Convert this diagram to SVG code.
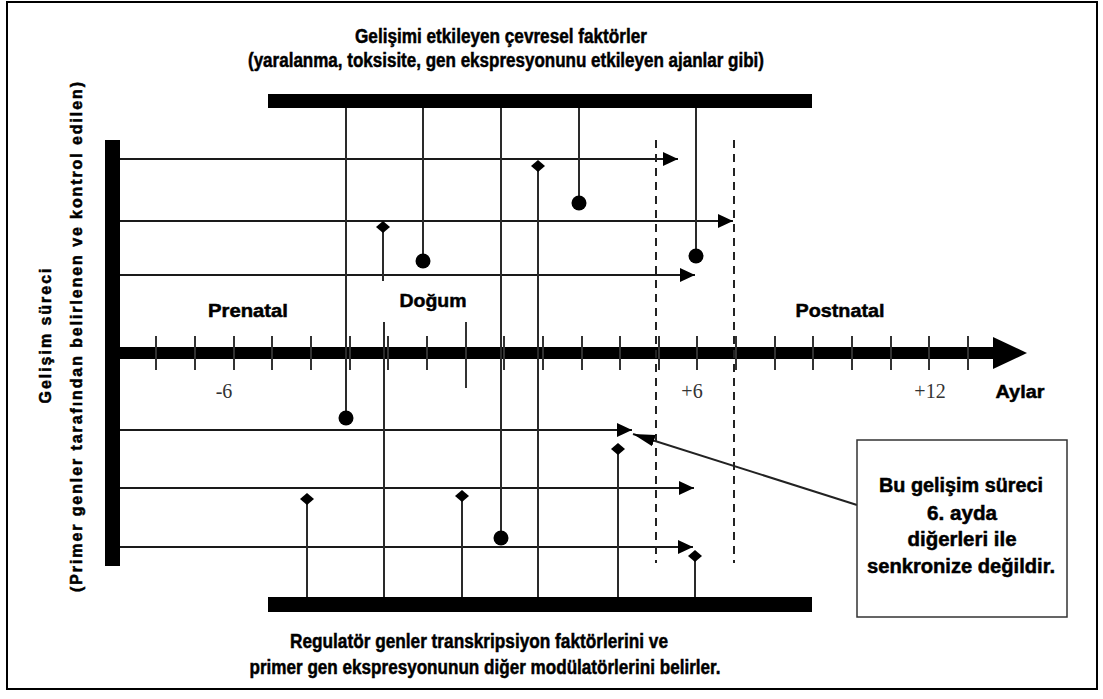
<svg xmlns="http://www.w3.org/2000/svg" width="1103" height="699" viewBox="0 0 1103 699">
<style>
.bt{font-family:"Liberation Sans",Arial,sans-serif;font-weight:bold;fill:#000;stroke:#000;stroke-width:0.5;text-anchor:middle}
.num{font-family:"Liberation Serif","Times New Roman",serif;fill:#333;text-anchor:middle;font-size:20px}
.h{stroke:#1a1a1a;stroke-width:2;fill:none}
.v{stroke:#2a2a2a;stroke-width:2;fill:none}
.tick{stroke:#333;stroke-width:2}
.dash{stroke:#222;stroke-width:2;stroke-dasharray:8 6;fill:none}
.dot{fill:#000}
</style>
<defs>
<marker id="ah" markerUnits="userSpaceOnUse" markerWidth="16" markerHeight="14" refX="15" refY="7" orient="auto">
<path d="M0,0 L15,7 L0,14 z" fill="#000"/>
</marker>
<marker id="ap" markerUnits="userSpaceOnUse" markerWidth="23" markerHeight="14" refX="22" refY="7" orient="auto">
<path d="M0,1 L22,7 L0,13 z" fill="#000"/>
</marker>
</defs>
<rect x="0" y="0" width="1103" height="699" fill="#fff"/>
<rect x="7" y="2" width="1090" height="687" fill="none" stroke="#000" stroke-width="2"/>

<g id="titles">
<text class="bt" x="501" y="43" font-size="20" textLength="292" lengthAdjust="spacingAndGlyphs">Gelişimi etkileyen çevresel faktörler</text>
<text class="bt" x="506" y="67" font-size="20" textLength="516" lengthAdjust="spacingAndGlyphs">(yaralanma, toksisite, gen ekspresyonunu etkileyen ajanlar gibi)</text>
<text class="bt" x="479" y="648" font-size="20" textLength="378" lengthAdjust="spacingAndGlyphs">Regulatör genler transkripsiyon faktörlerini ve</text>
<text class="bt" x="485" y="674" font-size="20" textLength="471" lengthAdjust="spacingAndGlyphs">primer gen ekspresyonunun diğer modülatörlerini belirler.</text>
</g>

<g id="yaxis-label">
<text class="bt" font-size="16" transform="translate(51,336) rotate(-90)" textLength="135">Gelişim süreci</text>
<text class="bt" font-size="16" transform="translate(82,337) rotate(-90)" textLength="510">(Primer genler tarafından belirlenen ve kontrol edilen)</text>
</g>

<g id="bars">
<rect x="268" y="94" width="544" height="14" fill="#000"/>
<rect x="268" y="597" width="544" height="15" fill="#000"/>
<rect x="105" y="140" width="15" height="426" fill="#000"/>
</g>

<g id="time-axis">
<line x1="118" y1="353" x2="996" y2="353" stroke="#000" stroke-width="12"/>
<polygon points="993,337 1027,353 993,369" fill="#000"/>
<g class="tick">
<line x1="156" y1="336" x2="156" y2="370"/><line x1="195" y1="336" x2="195" y2="370"/>
<line x1="234" y1="336" x2="234" y2="370"/><line x1="272" y1="336" x2="272" y2="370"/>
<line x1="311" y1="336" x2="311" y2="370"/><line x1="350" y1="336" x2="350" y2="370"/>
<line x1="388" y1="336" x2="388" y2="370"/><line x1="427" y1="336" x2="427" y2="370"/>
<line x1="466" y1="322" x2="466" y2="388"/><line x1="504" y1="336" x2="504" y2="370"/>
<line x1="543" y1="336" x2="543" y2="370"/><line x1="582" y1="336" x2="582" y2="370"/>
<line x1="620" y1="336" x2="620" y2="370"/><line x1="659" y1="336" x2="659" y2="370"/>
<line x1="697" y1="336" x2="697" y2="370"/><line x1="736" y1="336" x2="736" y2="370"/>
<line x1="775" y1="336" x2="775" y2="370"/><line x1="813" y1="336" x2="813" y2="370"/>
<line x1="852" y1="336" x2="852" y2="370"/><line x1="891" y1="336" x2="891" y2="370"/>
<line x1="929" y1="336" x2="929" y2="370"/><line x1="968" y1="336" x2="968" y2="370"/>
</g>
<text class="num" x="224" y="398">-6</text>
<text class="num" x="692" y="398">+6</text>
<text class="num" x="930" y="398">+12</text>
<text class="bt" x="1020" y="398" font-size="19" textLength="49" lengthAdjust="spacingAndGlyphs">Aylar</text>
<text class="bt" x="248" y="317" font-size="19" textLength="80" lengthAdjust="spacingAndGlyphs">Prenatal</text>
<text class="bt" x="433" y="307" font-size="19" textLength="67" lengthAdjust="spacingAndGlyphs">Doğum</text>
<text class="bt" x="840" y="317" font-size="19" textLength="89" lengthAdjust="spacingAndGlyphs">Postnatal</text>
</g>

<g id="connectors">
<line class="h" x1="120" y1="159" x2="678" y2="159" marker-end="url(#ah)"/>
<line class="h" x1="120" y1="221" x2="733" y2="221" marker-end="url(#ah)"/>
<line class="h" x1="120" y1="275" x2="695" y2="275" marker-end="url(#ah)"/>
<line class="h" x1="120" y1="430" x2="632" y2="430" marker-end="url(#ah)"/>
<line class="h" x1="120" y1="488" x2="694" y2="488" marker-end="url(#ah)"/>
<line class="h" x1="120" y1="547" x2="693" y2="547" marker-end="url(#ah)"/>

<line class="dash" x1="656" y1="140" x2="656" y2="563"/>
<line class="dash" x1="734" y1="140" x2="734" y2="563"/>

<line class="v" x1="346" y1="108" x2="346" y2="418"/>
<line class="v" x1="423" y1="108" x2="423" y2="261"/>
<line class="v" x1="501" y1="108" x2="501" y2="538"/>
<line class="v" x1="579" y1="108" x2="579" y2="203"/>
<line class="v" x1="696" y1="108" x2="696" y2="256"/>
<line class="v" x1="383" y1="227" x2="383" y2="281"/>
<line class="v" x1="384" y1="322" x2="384" y2="597"/>
<line class="v" x1="538" y1="166" x2="538" y2="597"/>
<line class="v" x1="307" y1="499" x2="307" y2="597"/>
<line class="v" x1="462" y1="496" x2="462" y2="597"/>
<line class="v" x1="618" y1="449" x2="618" y2="597"/>
<line class="v" x1="695" y1="556" x2="695" y2="597"/>

<line x1="857" y1="505" x2="633" y2="434" stroke="#222" stroke-width="2" marker-end="url(#ap)"/>
</g>

<g id="ends">
<circle class="dot" cx="346" cy="418" r="7.5"/>
<circle class="dot" cx="423" cy="261" r="7.5"/>
<circle class="dot" cx="501" cy="538" r="7.5"/>
<circle class="dot" cx="579" cy="203" r="7.5"/>
<circle class="dot" cx="696" cy="256" r="7.5"/>
<polygon class="dot" points="383,221 390,227 383,233 376,227"/>
<polygon class="dot" points="538,160 545,166 538,172 531,166"/>
<polygon class="dot" points="307,493 314,499 307,505 300,499"/>
<polygon class="dot" points="462,490 469,496 462,502 455,496"/>
<polygon class="dot" points="618,443 625,449 618,455 611,449"/>
<polygon class="dot" points="695,550 702,556 695,562 688,556"/>
</g>

<g id="note">
<rect x="857" y="440" width="210" height="177" fill="#fff" stroke="#333" stroke-width="1.5"/>
<text class="bt" x="961" y="492" font-size="20" textLength="164" lengthAdjust="spacingAndGlyphs">Bu gelişim süreci</text>
<text class="bt" x="962" y="520" font-size="20" textLength="70" lengthAdjust="spacingAndGlyphs">6. ayda</text>
<text class="bt" x="962" y="546" font-size="20" textLength="109" lengthAdjust="spacingAndGlyphs">diğerleri ile</text>
<text class="bt" x="961" y="573" font-size="20" textLength="188" lengthAdjust="spacingAndGlyphs">senkronize değildir.</text>
</g>
</svg>
